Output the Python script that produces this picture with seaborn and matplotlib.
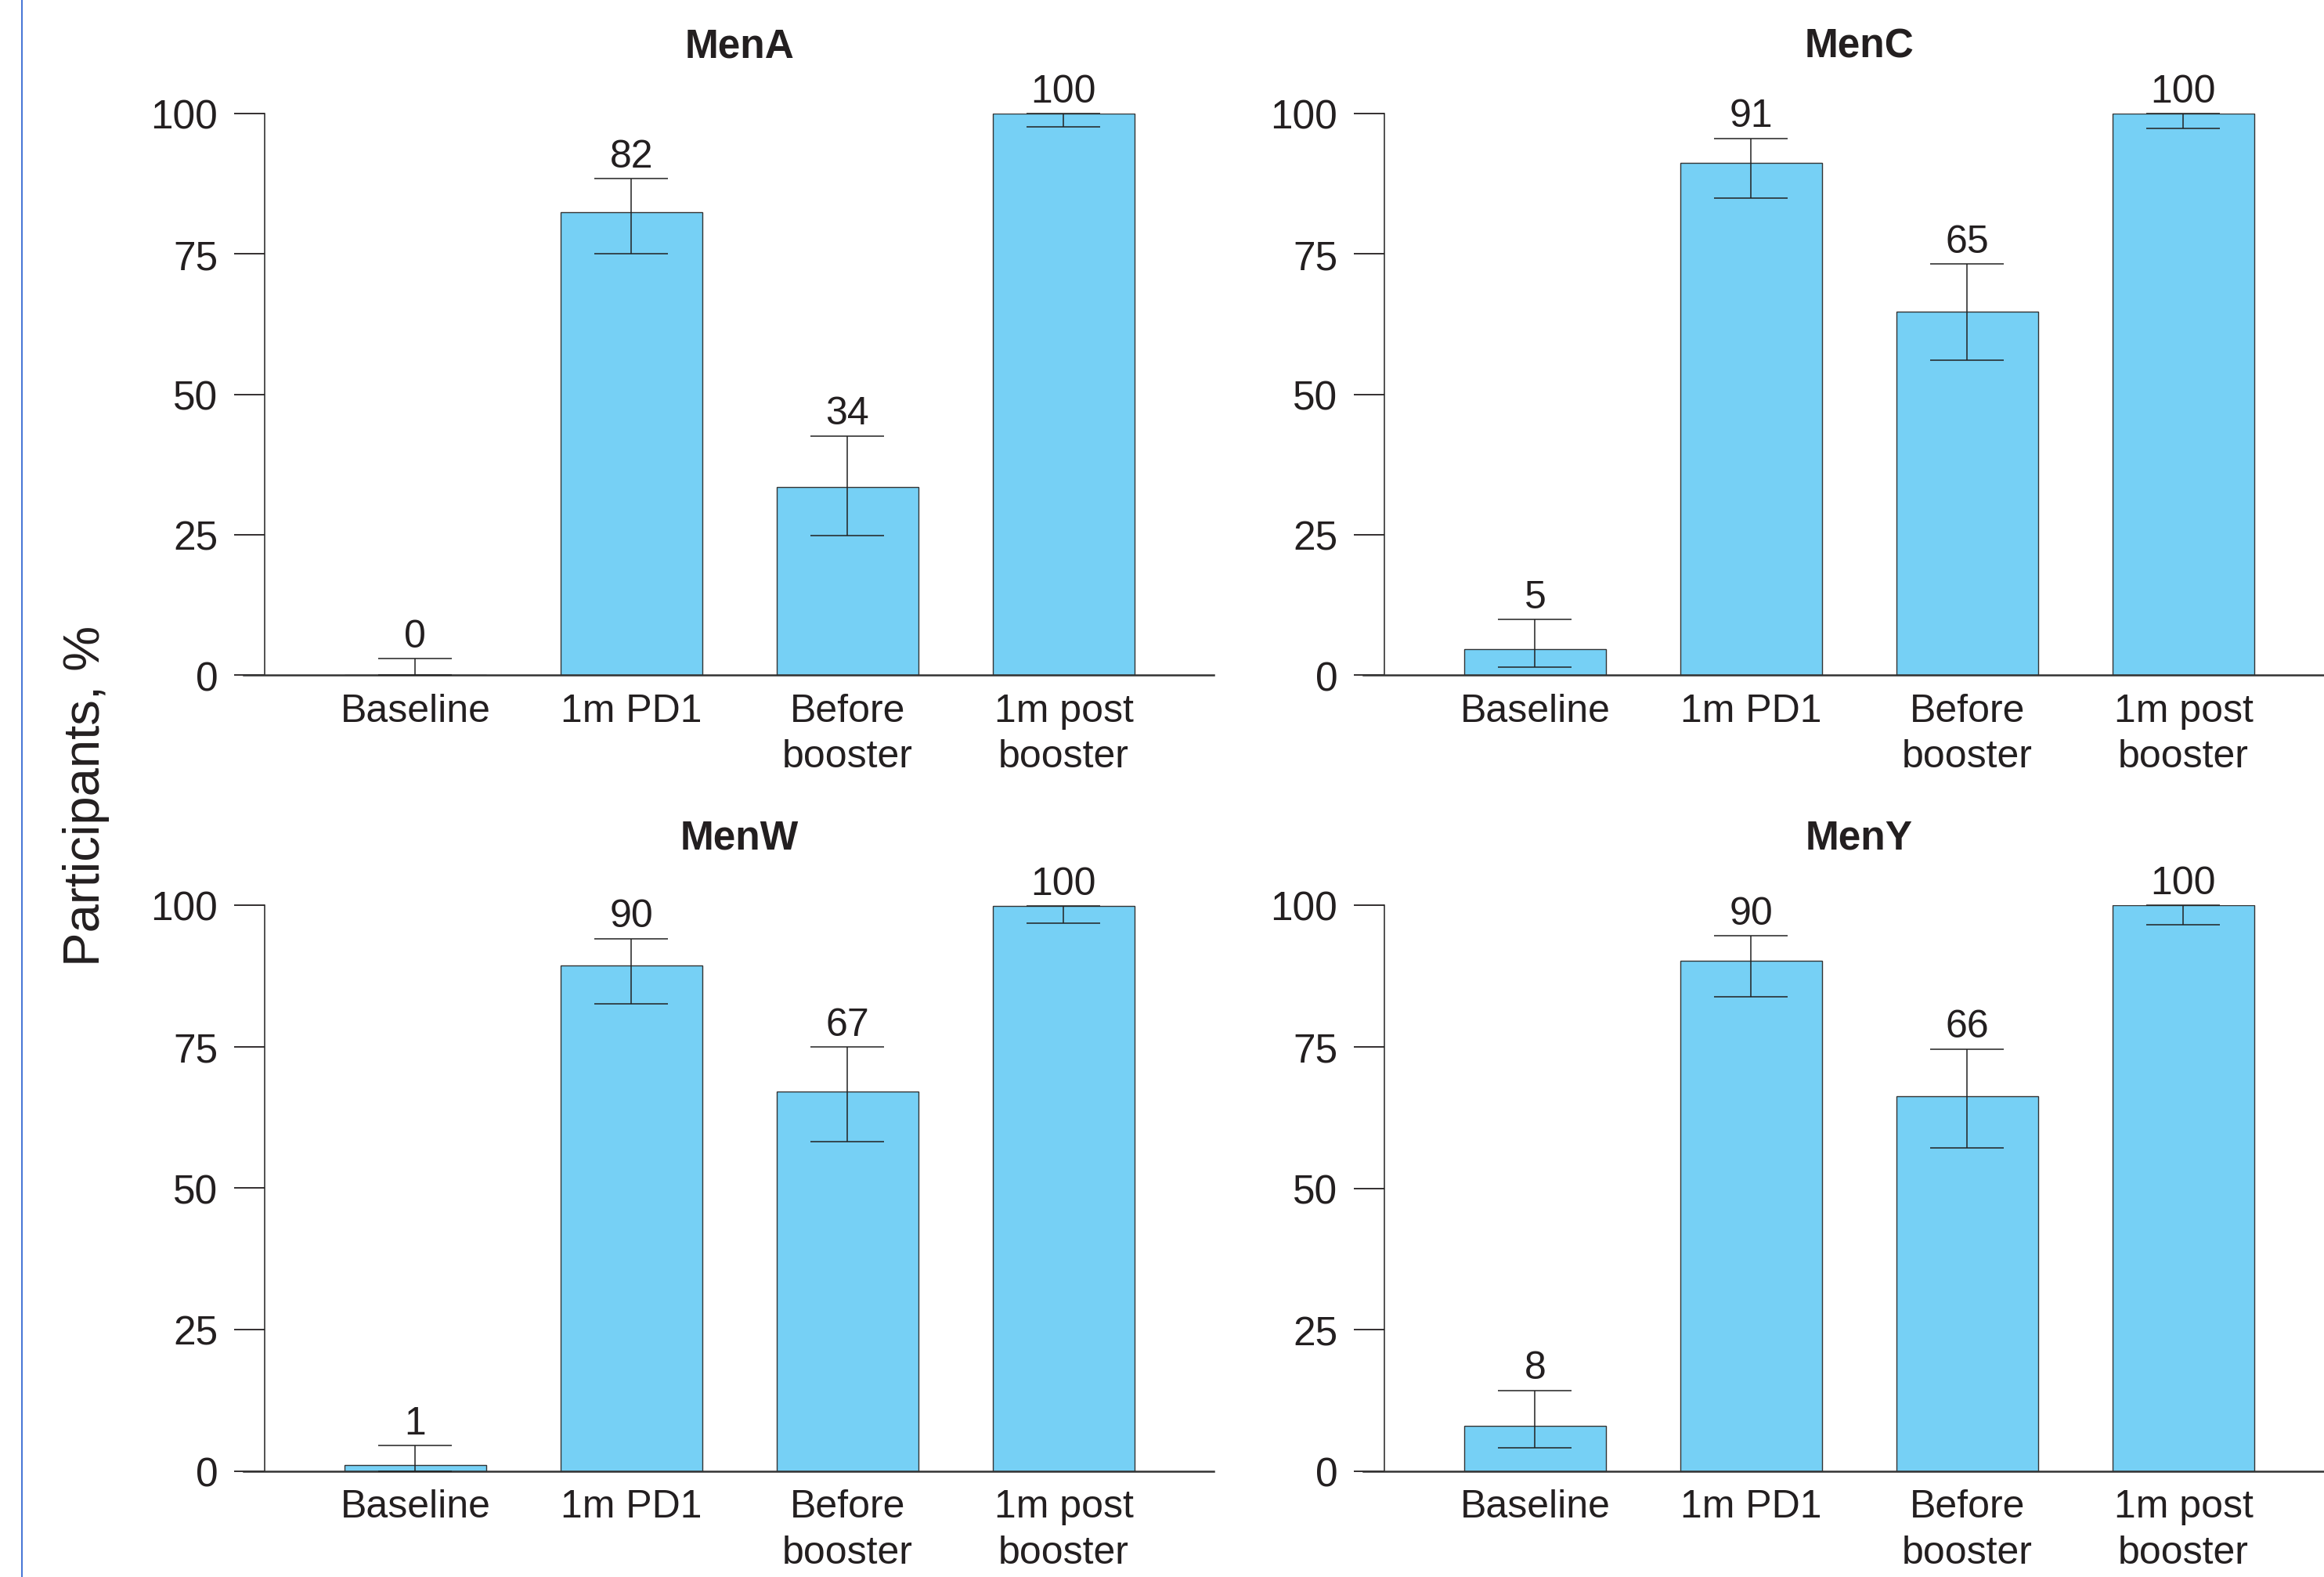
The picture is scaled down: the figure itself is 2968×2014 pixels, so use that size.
import matplotlib
matplotlib.use("Agg")
import matplotlib.pyplot as plt
import matplotlib.lines as mlines
import seaborn as sns
import numpy as np

sns.set_theme(style="white")
plt.rcParams["font.family"] = ["Liberation Sans", "DejaVu Sans"]

categories = ["Baseline", "1m PD1", "Before\nbooster", "1m post\nbooster"]

panel_names = ["MenA", "MenC", "MenW", "MenY"]

menA_values = [0, 82.5, 33.5, 100]
menA_upper = [2.9, 88.4, 42.6, 100]
menA_lower = [0, 75.1, 24.9, 97.6]
menA_labels = ["0", "82", "34", "100"]

menC_values = [4.6, 91.2, 64.7, 100]
menC_upper = [9.9, 95.6, 73.2, 100]
menC_lower = [1.4, 85.0, 56.1, 97.4]
menC_labels = ["5", "91", "65", "100"]

menW_values = [1.05, 89.3, 67.1, 99.8]
menW_upper = [4.5, 94.1, 74.9, 99.8]
menW_lower = [0, 82.6, 58.2, 96.8]
menW_labels = ["1", "90", "67", "100"]

menY_values = [8.0, 90.2, 66.3, 100]
menY_upper = [14.3, 94.6, 74.6, 100]
menY_lower = [4.1, 83.8, 57.1, 96.6]
menY_labels = ["8", "90", "66", "100"]

yticks = [0, 25, 50, 75, 100]

panels = [
    (menA_values, menA_upper, menA_lower, menA_labels),
    (menC_values, menC_upper, menC_lower, menC_labels),
    (menW_values, menW_upper, menW_lower, menW_labels),
    (menY_values, menY_upper, menY_lower, menY_labels),
]

W, H = 2968, 2015
fig = plt.figure(figsize=(W / 100, H / 100), dpi=100)

bar_color = "#76D0F5"
ink = "#231f20"

# axes boxes in pixels: left, y of 0, y of 100
boxes = [(338, 863.3, 146), (1768, 863.3, 146), (338, 1879.5, 1157), (1768, 1880, 1157)]
axw = 1212
xlo, xhi = -0.697, 3.694

for (name, (vals, up, lo, labs), (left, y0, y100)) in zip(panel_names, panels, boxes):
    ax = fig.add_axes([left / W, 1 - y0 / H, axw / W, (y0 - y100) / H])
    sns.barplot(x=categories, y=vals, ax=ax, color=bar_color, saturation=1,
                width=0.655, edgecolor="#333333", linewidth=1.0)
    xs = np.arange(len(vals))
    v = np.array(vals)
    yerr = [v - np.array(lo), np.array(up) - v]
    ax.errorbar(xs, v, yerr=yerr, fmt="none", ecolor="#222222", elinewidth=1.1,
                capsize=34, capthick=1.1, zorder=5, clip_on=False)
    for x, u, lab in zip(xs, up, labs):
        ax.annotate(lab, (x, u), xytext=(0, 11), textcoords="offset points",
                    ha="center", va="baseline", fontsize=36, color=ink)
    ax.set_xlim(xlo, xhi)
    ax.set_ylim(0, 100)
    ax.set_yticks(yticks)
    ax.set_yticklabels([str(t) for t in yticks])
    ax.tick_params(axis="y", length=28, width=1.3, pad=15, labelsize=37,
                   colors=ink, left=True)
    ax.tick_params(axis="x", length=0, pad=16, labelsize=36, labelcolor=ink)
    for lab in ax.get_xticklabels():
        lab.set_linespacing(1.36)
    sns.despine(ax=ax)
    ax.spines["left"].set_linewidth(1.1)
    ax.spines["left"].set_color("#222222")
    ax.spines["bottom"].set_linewidth(1.8)
    ax.spines["bottom"].set_color("#333333")
    ax.spines["bottom"].set_bounds(-0.795, xhi)
    ax.set_xlabel("")
    ax.set_ylabel("")
    ax.grid(False)
    ax.annotate(name, (1.5, 100), xytext=(0, 52), textcoords="offset points",
                xycoords=("data", "data"), ha="center", va="baseline",
                fontsize=37, fontweight="bold", color=ink, annotation_clip=False)

fig.text(110 / W, 1 - 1016 / H, "Participants, %", rotation=90, ha="center",
         va="center", fontsize=47, color=ink)

fig.add_artist(mlines.Line2D([28.3 / W, 28.3 / W], [0, 1], color="#4a78d6",
                             linewidth=1.5, transform=fig.transFigure))

fig.savefig("out.png", dpi=100, facecolor="white")
